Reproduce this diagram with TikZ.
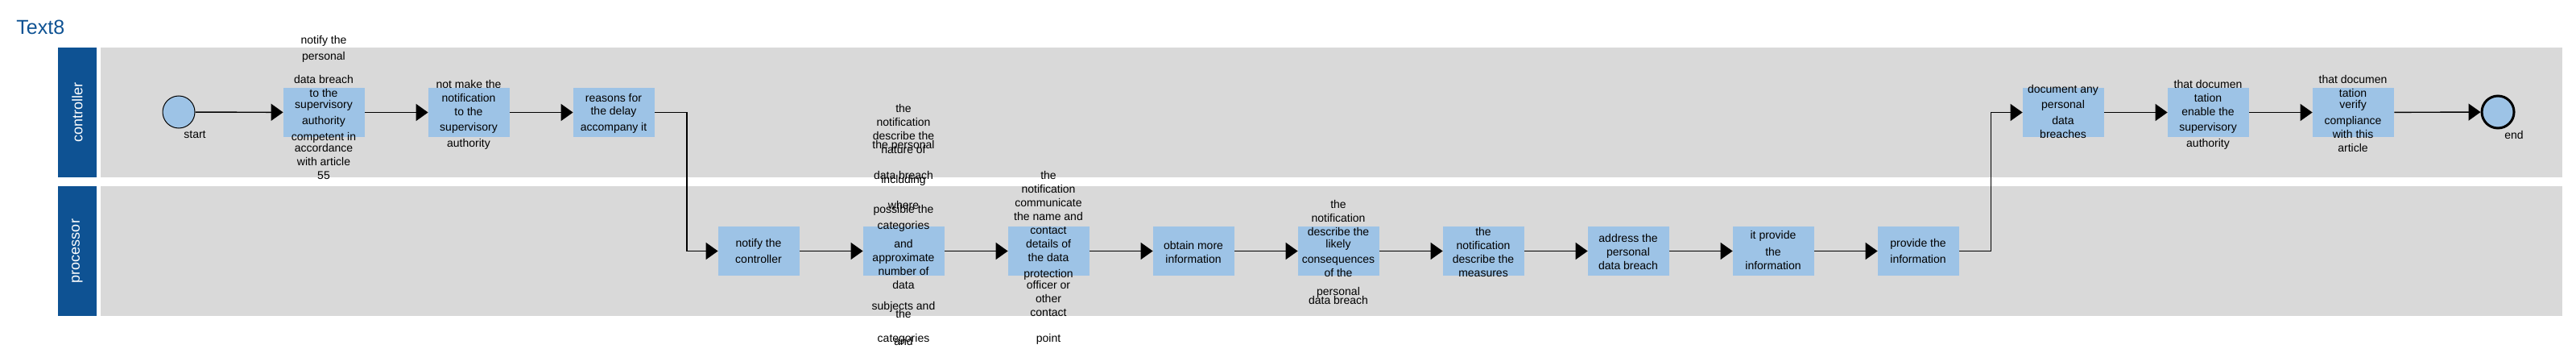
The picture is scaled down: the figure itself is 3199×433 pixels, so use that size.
\documentclass[tikz,border=0pt]{standalone}
\usepackage{fontspec}
\setmainfont{Liberation Sans}
\usepackage{tikz}
\usetikzlibrary{arrows.meta}
\usetikzlibrary{positioning}
\usepackage{color}
\definecolor{laneblue}{RGB}{14, 82, 147}
\definecolor{lanegray}{RGB}{217, 217, 217}
\definecolor{taskblue}{RGB}{157, 195, 230}
\tikzset{
  lanehead/.style={fill=laneblue, draw=none},
  lanebody/.style={fill=lanegray, draw=none},
  lanetext/.style={text=white, rotate=90, font=\fontsize{9}{10}\selectfont},
  task/.style={fill=taskblue, draw=none, minimum width=50.5pt, minimum height=30.5pt, inner sep=0pt},
  tasktext/.style={align=center, inner sep=0pt, font=\fontsize{7}{8.5}\selectfont},
  event/.style={circle, fill=taskblue, draw=black, minimum size=20pt, inner sep=0pt},
  flow/.style={-{Triangle[length=7.5pt,width=10.5pt]}, line width=0.7pt}
}

\begin{document}
\begin{tikzpicture}[x=0.5pt, y=-0.5pt]
            % Frame to ensure alignment:
            \useasboundingbox (0,0) rectangle (3199,433);
            \node[anchor=base west, text=laneblue, font=\fontsize{12.5}{14}\selectfont, inner sep=0pt] (title) at (20,43) {Text8};
            % Lanes
            \fill[lanehead] (72,59) rectangle (120,220);
            \fill[lanebody] (125,59) rectangle (3182,220);
            \fill[lanehead] (72,231) rectangle (120,392);
            \fill[lanebody] (125,231) rectangle (3182,392);
            \node[lanetext] (ctrl) at (96,139.5) {controller};
            \node[lanetext] (proc) at (96,311.5) {processor};
            % Controller lane
            \node[event, line width=0.5pt] (startev) at (222,139) {};
            \node[tasktext] (startlbl) at (242,167) {start};
            \node[task] (t1) at (402.5,139.5) {};
            \node[task] (t2) at (582.5,139.5) {};
            \node[task] (t3) at (762.5,139.5) {};
            \node[task] (t13) at (2562.5,139.5) {};
            \node[task] (t14) at (2742.5,139.5) {};
            \node[task] (t15) at (2922.5,139.5) {};
            \node[event, line width=1.5pt] (endev) at (3102,139) {};
            \node[tasktext] (endlbl) at (3122,167) {end};
            % Processor lane
            \node[task] (t4) at (942.5,311.5) {};
            \node[task] (t5) at (1122.5,311.5) {};
            \node[task] (t6) at (1302.5,311.5) {};
            \node[task] (t7) at (1482.5,311.5) {};
            \node[task] (t8) at (1662.5,311.5) {};
            \node[task] (t9) at (1842.5,311.5) {};
            \node[task] (t10) at (2022.5,311.5) {};
            \node[task] (t11) at (2202.5,311.5) {};
            \node[task] (t12) at (2382.5,311.5) {};
            % Task texts
            \node[tasktext] (t1l) at (402,133) {notify the\\[1.5pt] personal\\[6pt] data breach\\ to the\\[-1.5pt] supervisory\\[1.5pt] authority\\[1.5pt] competent in\\[-1.5pt] accordance\\ with article\\ 55};
            \node[tasktext] (t2l) at (582,142.5) {not make the\\ notification\\ to the\\[1pt] supervisory\\[1.5pt] authority};
            \node[tasktext] (t3l) at (762,141) {reasons for\\[-0.5pt] the delay\\[1.5pt] accompany it};
            \node[tasktext] (t4l) at (942,311) {notify the\\[1.5pt] controller};
            \node[tasktext] (t5l) at (1122,278.5) {the\\ notification\\ describe the\\ nature of\\[10pt] including\\[7.5pt] where\\[59pt] the\\[8.5pt] and};
            \node[tasktext] (t5m) at (1122,301) {the personal\\[10.5pt] data breach\\[12.5pt] possible the\\[1.5pt] categories\\[3pt] and\\ approximate\\ number of\\ data\\[4.5pt] subjects and\\[11.5pt] categories};
            \node[tasktext] (t6l) at (1302,320) {the\\ notification\\ communicate\\ the name and\\ contact\\ details of\\ the data\\[1.5pt] protection\\[-1.5pt] officer or\\ other\\ contact\\[7.5pt] point};
            \node[tasktext] (t7l) at (1482,312.5) {obtain more\\ information};
            \node[tasktext] (t8l) at (1662,312.5) {the\\ notification\\ describe the\\[-1pt] likely\\[1pt] consequences\\ of the\\[3pt] personal\\[-3pt] data breach};
            \node[tasktext] (t9l) at (1842,312.5) {the\\ notification\\ describe the\\ measures};
            \node[tasktext] (t10l) at (2022,312) {address the\\ personal\\ data breach};
            \node[tasktext] (t11l) at (2202,310) {it provide\\[2pt] the\\ information};
            \node[tasktext] (t12l) at (2382,311) {provide the\\[1.5pt] information};
            \node[tasktext] (t13l) at (2562,138) {document any\\[1pt] personal\\[1.5pt] data\\ breaches};
            \node[tasktext] (t14l) at (2742,142.5) {that documen\\ tation\\ enable the\\[1pt] supervisory\\[1.5pt] authority};
            \node[tasktext] (t15l) at (2922,140.5) {that documen\\ tation\\[-1.5pt] verify\\[1.5pt] compliance\\ with this\\ article};
            % Sequence flows
            \draw[flow] (startev) -- (t1);
            \draw[flow] (t1) -- (t2);
            \draw[flow] (t2) -- (t3);
            \draw[flow] (t3.east) -- ++(39.5,0) |- (t4.west);
            \draw[flow] (t4) -- (t5);
            \draw[flow] (t5) -- (t6);
            \draw[flow] (t6) -- (t7);
            \draw[flow] (t7) -- (t8);
            \draw[flow] (t8) -- (t9);
            \draw[flow] (t9) -- (t10);
            \draw[flow] (t10) -- (t11);
            \draw[flow] (t11) -- (t12);
            \draw[flow] (t12.east) -- ++(39,0) |- (t13.west);
            \draw[flow] (t13) -- (t14);
            \draw[flow] (t14) -- (t15);
            \draw[flow] (t15) -- (endev);
        \end{tikzpicture}
\end{document}
